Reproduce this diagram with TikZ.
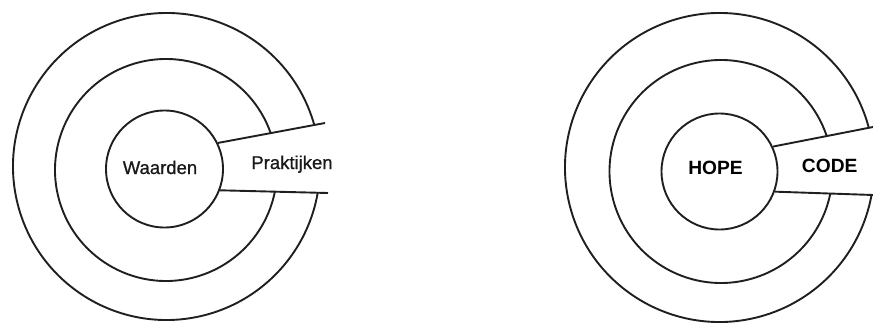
\documentclass[tikz,border=0pt]{standalone}
\usepackage{fontspec}
\setmainfont{Liberation Sans}
\newfontfamily\medfont[FakeBold=0.9]{Liberation Sans}
\begin{document}
\begin{tikzpicture}[x=1pt,y=1pt,
  ring/.style={line width=1.9pt, draw=black!88},
  core/.style={circle, draw=black!88, line width=1.9pt, inner sep=0pt, minimum size=#1},
  labL/.style={font=\medfont\fontsize{18.5}{20}\selectfont, anchor=base, inner sep=0pt, text=black!90},
  labR/.style={font=\fontsize{19.2}{21}\selectfont\bfseries, anchor=base, inner sep=0pt}]
\useasboundingbox (0,0) rectangle (873,322);
% ---------- left diagram ----------
\coordinate (lco) at (166.5,155.5);
\coordinate (lcm) at (166,152);
\node[core=117pt] (lin) at (164.5,153) {};
\draw[ring] (lco) ++(15.7:153.5pt) arc[start angle=15.7, end angle=350.2, radius=153.5pt];
\draw[ring] (lcm) ++(19.4:111pt) arc[start angle=19.4, end angle=348.8, radius=111pt];
\coordinate (lue) at (325,199);
\coordinate (lle) at (328,129);
\draw[ring] (lin.26) -- (lue);
\draw[ring] (lin.-21) -- (lle);
\node[labL] (waarden) at (160,148) {Waarden};
\node[labL] (prak) at (292,153) {Praktijken};
% ---------- right diagram ----------
\coordinate (rco) at (719.5,154.5);
\coordinate (rcm) at (721,150.5);
\node[core=116pt] (rin) at (719.5,150.5) {};
\draw[ring] (rco) ++(14.9:154.5pt) arc[start angle=14.9, end angle=349.8, radius=154.5pt];
\draw[ring] (rcm) ++(18.6:111.5pt) arc[start angle=18.6, end angle=348.4, radius=111.5pt];
\coordinate (rue) at (873,195);
\coordinate (rle) at (873,127);
\draw[ring] (rin.25) -- (rue);
\draw[ring] (rin.-20.5) -- (rle);
\node[labR] (hope) at (715.5,148) {HOPE};
\node[labR] (code) at (829.7,150) {CODE};
\end{tikzpicture}
\end{document}
